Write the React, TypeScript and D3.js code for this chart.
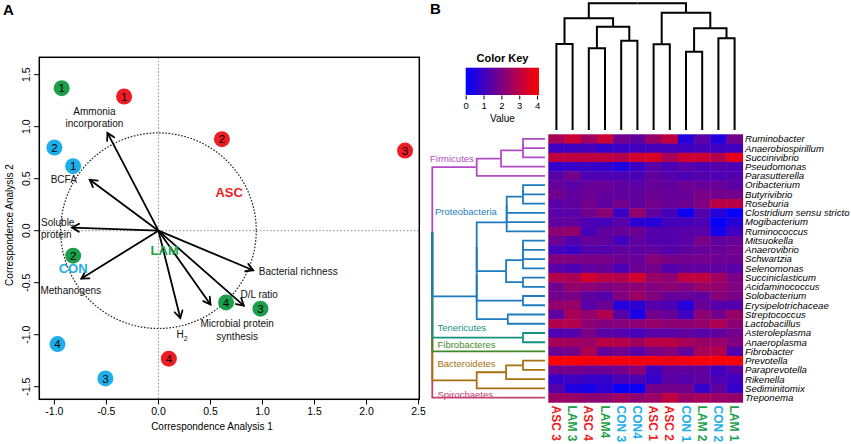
import React from 'react'
import * as d3 from 'd3'

const FONT = '"Liberation Sans", Arial, sans-serif'

// ---- panel A: correspondence analysis ----
const caSample = ['1', '1', '2', '3', '2', '1', '2', '4', '3', '4', '4', '3']
const caGroup = ['LAM', 'ASC', 'ASC', 'ASC', 'CON', 'CON', 'LAM', 'LAM', 'LAM', 'CON', 'ASC', 'CON']
const caX = [-0.93, -0.33, 0.61, 2.37, -1.0, -0.82, -0.82, 0.65, 0.98, -0.97, 0.1, -0.51]
const caY = [1.37, 1.29, 0.88, 0.77, 0.8, 0.62, -0.24, -0.69, -0.75, -1.09, -1.23, -1.42]

const groupNames = ['ASC', 'LAM', 'CON']
const groupLabelX = [0.68, 0.06, -0.82]
const groupLabelY = [0.37, -0.19, -0.36]

const vecNames = [
  ['Ammonia', 'incorporation'], ['BCFA'], ['Soluble', 'protein'], ['Methanogens'],
  ['Bacterial richness'], ['D/L ratio'], ['Microbial protein', 'synthesis'], ['H2'],
]
const vecX = [-0.49, -0.66, -0.83, -0.74, 0.91, 0.82, 0.5, 0.21]
const vecY = [0.94, 0.49, 0.03, -0.46, -0.38, -0.72, -0.71, -0.84]
const circleRadius = 0.94

const xTicks = [-1, -0.5, 0, 0.5, 1, 1.5, 2, 2.5]
const yTicks = [-1.5, -1, -0.5, 0, 0.5, 1, 1.5]

// ---- panel B: heatmap ----
const samples = ['ASC 3', 'LAM 3', 'ASC 4', 'LAM4', 'CON 3', 'CON4', 'ASC 1', 'ASC 2', 'CON 1', 'LAM 2', 'CON 2', 'LAM 1']
const sampleGroup = ['ASC', 'LAM', 'ASC', 'LAM', 'CON', 'CON', 'ASC', 'ASC', 'CON', 'LAM', 'CON', 'LAM']

const genera = [
  'Ruminobacter', 'Anaerobiospirillum', 'Succinivibrio', 'Pseudomonas', 'Parasutterella',
  'Oribacterium', 'Butyrivibrio', 'Roseburia', 'Clostridium sensu stricto', 'Mogibacterium',
  'Ruminococcus', 'Mitsuokella', 'Anaerovibrio', 'Schwartzia', 'Selenomonas',
  'Succiniclasticum', 'Acidaminococcus', 'Solobacterium', 'Erysipelotrichaceae', 'Streptococcus',
  'Lactobacillus', 'Asteroleplasma', 'Anaeroplasma', 'Fibrobacter', 'Prevotella',
  'Paraprevotella', 'Rikenella', 'Sediminitomix', 'Treponema',
]
const phyla = ['Firmicutes', 'Proteobacteria', 'Tenericutes', 'Fibrobacteres', 'Bacteroidetes', 'Spirochaetes']
const rowPhylum = [0, 0, 0, 0, 0, 1, 1, 1, 1, 1, 1, 1, 1, 1, 1, 1, 1, 1, 1, 1, 1, 2, 2, 3, 4, 4, 4, 4, 5]

const abundance = [
  [2.6, 3.2, 2.5, 3.2, 1.8, 1.5, 2.4, 3.0, 0.6, 1.4, 0.5, 1.8],
  [1.0, 1.0, 1.1, 0.8, 0.9, 1.0, 1.1, 1.1, 1.0, 1.1, 1.0, 1.0],
  [3.0, 3.0, 3.0, 3.0, 2.8, 3.3, 3.4, 2.6, 3.2, 3.2, 2.8, 3.6],
  [0.8, 0.9, 0.9, 0.8, 0.5, 0.9, 1.4, 1.2, 1.4, 1.2, 1.3, 1.2],
  [1.4, 1.8, 1.2, 1.2, 1.2, 1.2, 1.5, 1.3, 1.2, 1.3, 1.2, 1.3],
  [1.6, 1.4, 1.6, 1.7, 1.5, 1.4, 1.6, 1.5, 1.7, 1.6, 1.6, 1.4],
  [1.8, 1.5, 1.7, 1.5, 1.5, 1.5, 1.7, 1.6, 1.6, 1.9, 1.8, 1.8],
  [1.4, 1.5, 1.8, 1.5, 1.8, 1.5, 1.8, 1.6, 1.7, 2.0, 2.9, 2.9],
  [1.4, 1.4, 1.8, 2.2, 0.9, 2.3, 1.5, 1.1, 0.2, 1.3, 0.6, 0.1],
  [1.5, 1.5, 1.2, 1.1, 1.4, 0.7, 0.6, 1.1, 1.1, 1.2, 0.1, 0.6],
  [2.2, 2.3, 1.1, 1.5, 1.6, 1.7, 1.3, 1.3, 1.4, 1.4, 0.3, 1.0],
  [1.7, 1.3, 1.6, 1.5, 1.0, 1.5, 1.3, 1.3, 1.4, 1.9, 1.5, 1.6],
  [1.1, 0.9, 1.3, 1.3, 1.5, 1.5, 1.5, 1.3, 1.5, 1.6, 1.6, 1.8],
  [2.0, 2.0, 1.9, 1.9, 1.7, 1.6, 2.1, 1.9, 1.8, 1.8, 1.7, 1.7],
  [1.4, 1.2, 1.5, 1.6, 1.2, 1.7, 1.8, 1.3, 1.5, 1.5, 1.5, 1.4],
  [2.8, 2.6, 3.3, 2.9, 2.8, 3.3, 2.4, 2.2, 3.0, 3.0, 2.5, 1.9],
  [1.8, 2.3, 2.2, 2.0, 2.1, 2.2, 2.0, 2.2, 2.0, 2.4, 2.3, 2.0],
  [1.8, 1.9, 1.5, 1.3, 2.0, 2.4, 2.0, 1.6, 1.6, 1.5, 2.1, 1.9],
  [2.3, 2.4, 1.4, 1.7, 0.6, 0.7, 1.3, 1.2, 0.6, 1.6, 1.3, 1.3],
  [1.5, 2.6, 2.3, 2.8, 1.4, 0.4, 1.8, 1.6, 1.0, 2.2, 1.8, 2.4],
  [2.8, 2.8, 2.2, 2.0, 2.1, 2.2, 2.3, 2.2, 2.2, 2.3, 2.7, 2.2],
  [1.2, 1.3, 1.9, 1.4, 1.3, 1.1, 1.4, 1.4, 1.5, 1.4, 1.5, 1.8],
  [2.6, 2.5, 2.4, 2.9, 2.8, 2.5, 2.9, 2.9, 2.6, 2.4, 2.4, 2.0],
  [1.7, 1.9, 2.7, 1.6, 1.8, 1.4, 1.9, 2.1, 1.6, 2.6, 2.8, 1.3],
  [4.0, 4.0, 3.8, 3.8, 3.8, 3.8, 3.8, 3.7, 3.8, 3.9, 3.9, 3.9],
  [1.8, 1.8, 1.7, 1.7, 1.8, 2.2, 1.0, 1.5, 1.5, 1.5, 1.0, 1.4],
  [0.8, 1.0, 0.9, 0.8, 1.2, 1.2, 0.8, 1.4, 1.3, 1.5, 1.2, 1.0],
  [1.3, 0.5, 0.4, 0.7, 0.1, 0.2, 1.8, 1.8, 1.8, 0.8, 1.5, 0.8],
  [2.4, 2.4, 2.2, 2.2, 2.5, 2.2, 2.4, 3.0, 2.4, 2.6, 2.4, 2.3],
]

const keyTicks = [0, 1, 2, 3, 4]

// dendrograms: leaves are column / row indices, h = merge height
type TNode = number | { h: number; c: TNode[] }
const colTree: TNode = {
  h: 10, c: [
    { h: 8.82, c: [{ h: 6.79, c: [0, 1] }, { h: 8.15, c: [{ h: 6.45, c: [2, 3] }, { h: 7.05, c: [4, 5] }] }] },
    { h: 9.26, c: [{ h: 6.76, c: [6, 7] }, { h: 8.03, c: [{ h: 6.18, c: [8, 9] }, { h: 7.24, c: [10, 11] }] }] },
  ],
}
const firmTree: TNode = { h: 6.06, c: [{ h: 3.9, c: [{ h: 1.95, c: [{ h: 1.95, c: [0, 1] }, 2] }, 3] }, 4] }
const clusterA: TNode = { h: 3.4, c: [{ h: 3.4, c: [{ h: 3.4, c: [{ h: 1.95, c: [{ h: 1.95, c: [5, 6] }, 7] }, 8] }, 9] }, 10] }
const clusterC: TNode = { h: 3.45, c: [{ h: 1.95, c: [{ h: 1.95, c: [{ h: 1.95, c: [11, 12] }, 13] }, 14] }, { h: 1.95, c: [15, 16] }] }
const proteoTree: TNode = { h: 6.06, c: [{ h: 6.06, c: [{ h: 6.06, c: [clusterA, clusterC] }, { h: 1.95, c: [17, 18] }] }, { h: 3.3, c: [19, 20] }] }
const bactTree: TNode = { h: 6.06, c: [{ h: 3.45, c: [{ h: 1.95, c: [24, 25] }, 26] }, 27] }
const rowTree: TNode = { h: 10, c: [firmTree, proteoTree, { h: 1.95, c: [21, 22] }, 23, bactTree, 28] }

const groupColor: Record<string, string> = { ASC: '#ee1c24', LAM: '#1c9f4a', CON: '#1eaeea' }
const phylumColor = ['#b24cc4', '#1f7bc0', '#17917f', '#3f8a2b', '#a5720f', '#c2426f']

interface Link { d: string; color: string }

function buildLinks(tree: TNode, leafPos: (i: number) => number, hPos: (h: number) => number,
  vertical: boolean, colorOf: (leaves: number[]) => string): Link[] {
  const root = d3.hierarchy<TNode>(tree, n => (typeof n === 'number' ? null : n.c))
  const pos = new Map<any, number>()
  root.eachAfter(n => {
    if (!n.children) pos.set(n, leafPos(n.data as number))
    else pos.set(n, (pos.get(n.children[0])! + pos.get(n.children[1])!) / 2)
  })
  const links: Link[] = []
  const walk = (n: d3.HierarchyNode<TNode>) => {
    if (!n.children) return
    const ph = hPos((n.data as any).h)
    const pp = pos.get(n)!
    for (const k of [...n.children].reverse()) {
      const kh = hPos(k.children ? (k.data as any).h : 0)
      const kp = pos.get(k)!
      const leaves = k.leaves().map(l => l.data as number)
      links.push({
        d: vertical ? `M${pp},${ph}H${kp}V${kh}` : `M${ph},${pp}V${kp}H${kh}`,
        color: colorOf(leaves),
      })
      walk(k)
    }
  }
  walk(root)
  return links
}

const PanelA = () => {
  const x = d3.scaleLinear().domain([-1.145, 2.507]).range([39.3, 419.3])
  const y = d3.scaleLinear().domain([-1.621, 1.667]).range([399.3, 57.3])
  const ox = x(0), oy = y(0)
  const rPx = x(circleRadius) - x(0)
  const labelLayout = [
    { dx: -13, dy: [-21, -9.5], anchor: 'middle' },
    { dx: -26, dy: [0], anchor: 'middle' },
    { dx: -31, dy: [-5, 6.7], anchor: 'start' },
    { dx: -10.7, dy: [12.4], anchor: 'middle' },
    { dx: 5.6, dy: [1.3], anchor: 'start' },
    { dx: -3.3, dy: [-10.7], anchor: 'start' },
    { dx: 26.7, dy: [19.3, 31.7], anchor: 'middle' },
    { dx: 1.7, dy: [16.3], anchor: 'middle' },
  ]
  return (
    <g fontFamily={FONT}>
      <text x={3} y={15} fontSize={15} fontWeight="bold">A</text>
      <line x1={ox} x2={ox} y1={57.3} y2={399.3} stroke="#888" strokeWidth={1} strokeDasharray="1.5,2" />
      <line x1={39.3} x2={419.3} y1={oy} y2={oy} stroke="#888" strokeWidth={1} strokeDasharray="1.5,2" />
      <circle cx={ox} cy={oy} r={rPx} fill="none" stroke="#222" strokeWidth={1.2} strokeDasharray="1.6,1.6" />
      {vecX.map((vx, i) => {
        const tx = x(vx), ty = y(vecY[i])
        const ang = Math.atan2(ty - oy, tx - ox)
        const L = 8, a = Math.PI / 6
        const h1 = [tx - L * Math.cos(ang - a), ty - L * Math.sin(ang - a)]
        const h2 = [tx - L * Math.cos(ang + a), ty - L * Math.sin(ang + a)]
        return (
          <g key={'v' + i} stroke="#000" strokeWidth={1.8} fill="none" strokeLinecap="round">
            <line x1={ox} y1={oy} x2={tx} y2={ty} />
            <polyline points={`${h1[0]},${h1[1]} ${tx},${ty} ${h2[0]},${h2[1]}`} />
          </g>
        )
      })}
      {vecNames.map((lines, i) => {
        const tx = x(vecX[i]), ty = y(vecY[i])
        const lay = labelLayout[i]
        return lines.map((ln, j) => (
          <text key={'vl' + i + j} x={tx + lay.dx} y={ty + lay.dy[j]} dy="0.35em" fontSize={10}
            textAnchor={lay.anchor as any} fill="#111">
            {ln === 'H2' ? <><tspan>H</tspan><tspan fontSize={7} dy={3}>2</tspan></> : ln}
          </text>
        ))
      })}
      {caX.map((cx, i) => (
        <g key={'p' + i}>
          <circle cx={x(cx)} cy={y(caY[i])} r={8} fill={groupColor[caGroup[i]]} />
          <text x={x(cx)} y={y(caY[i])} dy="0.36em" textAnchor="middle" fontSize={11.5}>{caSample[i]}</text>
        </g>
      ))}
      {groupNames.map((g, i) => (
        <text key={g} x={x(groupLabelX[i])} y={y(groupLabelY[i])} dy="0.35em" textAnchor="middle"
          fontSize={13} fontWeight="bold" fill={groupColor[g]}>{g}</text>
      ))}
      <rect x={39.3} y={57.3} width={380} height={342} fill="none" stroke="#000" strokeWidth={1.5} />
      {xTicks.map(t => (
        <g key={'xt' + t}>
          <line x1={x(t)} x2={x(t)} y1={399.3} y2={404.5} stroke="#000" />
          <text x={x(t)} y={411.7} dy="0.35em" textAnchor="middle" fontSize={10.5}>{t.toFixed(1)}</text>
        </g>
      ))}
      {yTicks.map(t => (
        <g key={'yt' + t}>
          <line x1={34.1} x2={39.3} y1={y(t)} y2={y(t)} stroke="#000" />
          <text transform={`translate(26.7,${y(t)}) rotate(-90)`} dy="0.35em" textAnchor="middle" fontSize={10.5}>{t.toFixed(1)}</text>
        </g>
      ))}
      <text x={212} y={426.7} dy="0.35em" textAnchor="middle" fontSize={10}>Correspondence Analysis 1</text>
      <text transform="translate(9,225) rotate(-90)" dy="0.35em" textAnchor="middle" fontSize={10}>Correspondence Analysis 2</text>
    </g>
  )
}

const PanelB = () => {
  const xb = d3.scaleBand<number>().domain(d3.range(samples.length)).range([548.3, 742.7])
  const yb = d3.scaleBand<number>().domain(d3.range(genera.length)).range([134.3, 402.3])
  const color = d3.scaleLinear<string>().domain([0, 4]).range(['#0000ff', '#ff0000']).interpolate(d3.interpolateRgb).clamp(true)
  const colH = d3.scaleLinear().domain([0, 10]).range([130, 3.3])
  const rowH = d3.scaleLinear().domain([0, 10]).range([545, 432.3])
  const key = d3.scaleLinear().domain([0, 4]).range([466.2, 537.6])

  const colLinks = buildLinks(colTree, i => xb(i)! + xb.bandwidth() / 2, h => colH(h), true, () => '#000')
  const rowLinks = buildLinks(rowTree, i => yb(i)! + yb.bandwidth() / 2, h => rowH(h), false, leaves => {
    const p = rowPhylum[leaves[0]]
    return leaves.every(l => rowPhylum[l] === p) ? phylumColor[p] : '#000'
  })
  const phylumLabelPos = [[430, 159], [435, 212], [437.5, 328], [437.5, 344.5], [437.5, 363.5], [437.5, 394.5]]

  return (
    <g fontFamily={FONT}>
      <text x={430} y={14} fontSize={15} fontWeight="bold">B</text>
      <defs>
        <linearGradient id="keyGrad" x1="0" x2="1" y1="0" y2="0">
          {keyTicks.map(t => <stop key={t} offset={t / 4} stopColor={color(t)} />)}
        </linearGradient>
      </defs>
      <text x={502.5} y={61.5} textAnchor="middle" fontSize={11} fontWeight="bold">Color Key</text>
      <rect x={465.7} y={67.7} width={73.3} height={27.3} fill="url(#keyGrad)" />
      {keyTicks.map(t => (
        <g key={'k' + t}>
          <line x1={key(t)} x2={key(t)} y1={95.5} y2={99.5} stroke="#000" />
          <text x={key(t)} y={105.5} dy="0.35em" textAnchor="middle" fontSize={9.5}>{t}</text>
        </g>
      ))}
      <text x={502.5} y={118.3} dy="0.35em" textAnchor="middle" fontSize={10}>Value</text>

      {abundance.map((row, r) => row.map((v, c) => (
        <rect key={r + '-' + c} x={xb(c)} y={yb(r)} width={xb.bandwidth() + 0.4} height={yb.bandwidth() + 0.4} fill={color(v)} />
      )))}

      {colLinks.map((l, i) => <path key={'cl' + i} d={l.d} fill="none" stroke={l.color} strokeWidth={2} />)}
      {rowLinks.map((l, i) => <path key={'rl' + i} d={l.d} fill="none" stroke={l.color} strokeWidth={1.8} />)}

      {phyla.map((p, i) => (
        <text key={p} x={phylumLabelPos[i][0]} y={phylumLabelPos[i][1]} dy="0.35em" fontSize={9.5} fill={phylumColor[i]}>{p}</text>
      ))}

      {genera.map((g, i) => (
        <text key={g} x={745} y={yb(i)! + yb.bandwidth() / 2} dy="0.35em" fontSize={9.6} fontStyle="italic">{g}</text>
      ))}
      {samples.map((s, i) => (
        <text key={s} transform={`translate(${xb(i)! + xb.bandwidth() / 2},405.5) rotate(90)`} dy="0.36em"
          fontSize={12} fontWeight="bold" fill={groupColor[sampleGroup[i]]}>{s}</text>
      ))}
    </g>
  )
}

export default function App() {
  return (
    <svg width={851} height={444} style={{ position: 'absolute', left: 0, top: 0, background: '#fff' }}>
      <rect width={851} height={444} fill="#fff" />
      <PanelA />
      <PanelB />
    </svg>
  )
}
